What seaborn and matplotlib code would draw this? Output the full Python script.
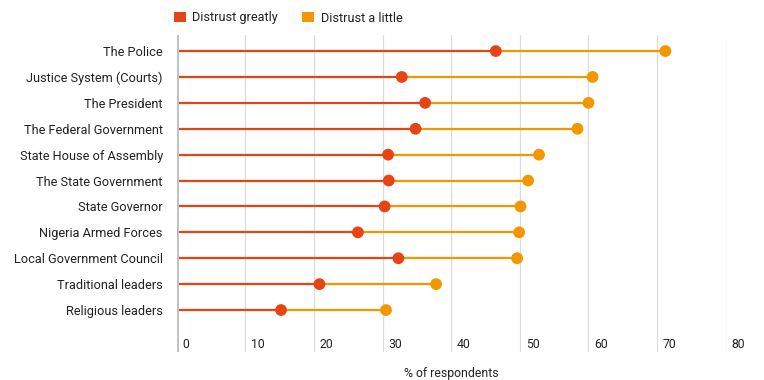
import numpy as np
import pandas as pd
import matplotlib
matplotlib.use("Agg")
import matplotlib.pyplot as plt
from matplotlib.patches import Patch
import seaborn as sns

institutions = [
    "The Police",
    "Justice System (Courts)",
    "The President",
    "The Federal Government",
    "State House of Assembly",
    "The State Government",
    "State Governor",
    "Nigeria Armed Forces",
    "Local Government Council",
    "Traditional leaders",
    "Religious leaders",
]
distrust_greatly = [46.5, 32.8, 36.2, 34.8, 30.8, 30.9, 30.3, 26.4, 32.3, 20.8, 15.2]
distrust_little = [71.2, 60.6, 60.0, 58.4, 52.8, 51.2, 50.1, 49.9, 49.6, 37.8, 30.5]
x_ticks = [0, 10, 20, 30, 40, 50, 60, 70, 80]

RED = "#e64415"
ORANGE = "#f39700"
TXT = "#222222"
FS = 9.2

sns.set_theme(style="white")
plt.rcParams["font.family"] = ["Roboto", "DejaVu Sans"]

df = pd.DataFrame({
    "institution": institutions * 2,
    "value": distrust_greatly + distrust_little,
    "series": ["Distrust greatly"] * len(institutions) + ["Distrust a little"] * len(institutions),
})
df["row"] = df["institution"].map({k: i for i, k in enumerate(institutions)})

fig = plt.figure(figsize=(7.64, 3.8), dpi=100)
ax = fig.add_axes([0.2313, 0.0737, 0.7186, 0.8342])

rows = np.arange(len(institutions))
ax.hlines(rows, 0, distrust_greatly, color=RED, lw=1.6, zorder=2)
ax.hlines(rows, distrust_greatly, distrust_little, color=ORANGE, lw=1.6, zorder=2)

sns.scatterplot(data=df, x="value", y="row", hue="series",
                palette={"Distrust greatly": RED, "Distrust a little": ORANGE},
                s=72, edgecolor="none", linewidth=0, legend=False, zorder=3, ax=ax)

ax.set_xlim(0, 80)
ax.set_ylim(11.62, -0.62)
ax.set_xticks(x_ticks)
ax.set_xticklabels([])
ax.xaxis.grid(True, color="#dcdcdc", lw=0.9, zorder=0)
ax.set_axisbelow(True)
ax.axvline(0, color="#bcc3c2", lw=2.8, zorder=5)

ax.set_yticks(rows)
ax.set_yticklabels(institutions, fontsize=FS, color=TXT)
ax.tick_params(axis="y", length=0, pad=10)
ax.tick_params(axis="x", length=0)
for s in ax.spines.values():
    s.set_visible(False)

for t in x_ticks:
    ax.text(t + 0.85, 11.32, str(t), ha="left", va="center", fontsize=8.8, color=TXT)

ax.set_ylabel("")
ax.set_xlabel("")
fig.text(451 / 764, 1 - 374 / 380, "% of respondents", ha="center", va="center",
         fontsize=8.8, color=TXT)

handles = [Patch(facecolor=RED, edgecolor="none"), Patch(facecolor=ORANGE, edgecolor="none")]
fig.legend(handles, ["Distrust greatly", "Distrust a little"], loc="center left",
           bbox_to_anchor=(174 / 764, 1 - 18 / 380), ncol=2, frameon=False,
           fontsize=FS, handlelength=0.92, handleheight=0.92, handletextpad=0.52,
           columnspacing=1.9, borderpad=0, borderaxespad=0, labelcolor=TXT)

fig.savefig("out.png", dpi=100)
